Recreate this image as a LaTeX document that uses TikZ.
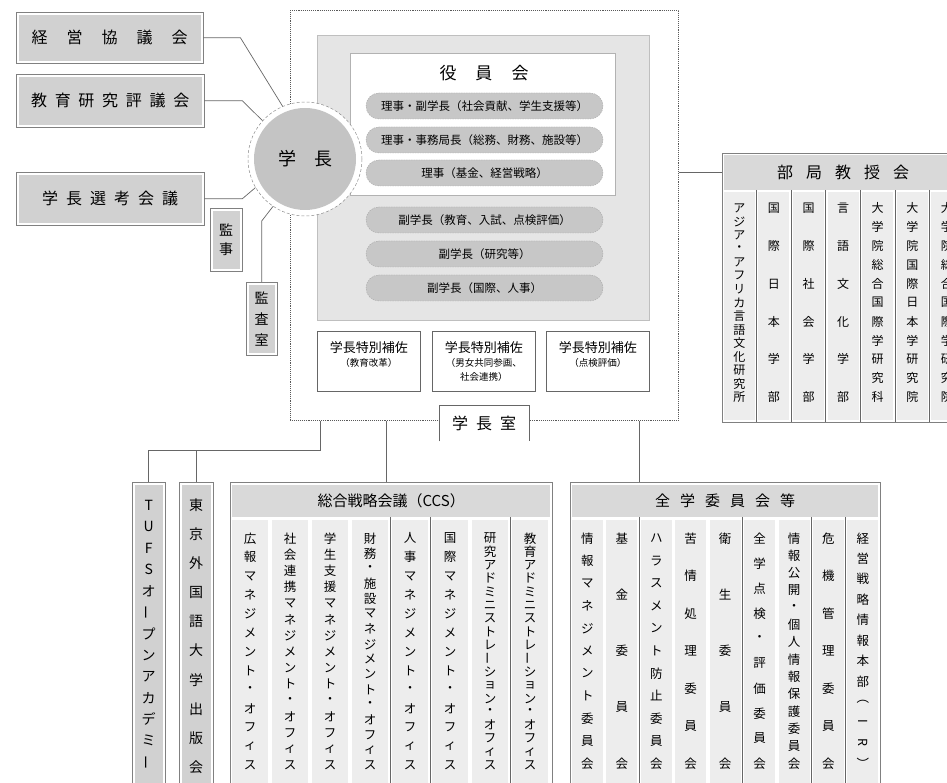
\documentclass[tikz,border=0pt]{standalone}
\usepackage{fontspec}
\usepackage{graphicx}
\usetikzlibrary{calc}
\newfontfamily\jpfont{Noto Sans CJK JP}
\newcommand\fs[1]{\jpfont\fontsize{#1}{#1}\selectfont}
\newcommand\vbar{\rotatebox[origin=c]{90}{ー}}
\newcommand\vI{\rotatebox[origin=c]{-90}{I}}
\newcommand\vR{\rotatebox[origin=c]{-90}{R}}
\makeatletter
\def\tk@end{\tk@end}
\newcommand\spread[2]{\def\tk@sep{}\def\tk@gap{\hspace{#1}}\hs@loop#2\tk@end}
\def\hs@loop#1{\def\tk@tmp{#1}\ifx\tk@tmp\tk@end\else\tk@sep#1\let\tk@sep\tk@gap\expandafter\hs@loop\fi}
\newcommand\vstack[3][0pt]{\parbox[c][\dimexpr#2+#1\relax][s]{1.5em}{\offinterlineskip\def\tk@sep{}\def\tk@gap{\vfill}\expandafter\vs@loop#3\tk@end\vbox to #1{}}}
\def\vs@loop#1{\def\tk@tmp{#1}\ifx\tk@tmp\tk@end\else\tk@sep\hbox to 1.5em{\hss\smash{$\vcenter{\hbox{#1}}$}\hss\vrule height .75em depth .25em width 0pt}\let\tk@sep\tk@gap\expandafter\vs@loop\fi}
\makeatother
\newcommand\aidetext[1]{\parbox[c][58pt][t]{100pt}{\centering\vspace*{9pt}{\fs{13}学長特別補佐\par}\fontsize{9.5}{14}\selectfont#1\par}}

\begin{document}
\begin{tikzpicture}[x=1pt,y=-1pt,
	conn/.style={draw=black!60, line width=0.7pt},
	colsep/.style={draw=black!60, line width=0.6pt},
	gbox/.style={draw=black!50, fill=white, inner sep=0pt, anchor=north west,
		path picture={\fill[black!18] ([shift={(2.5pt,2.5pt)}]path picture bounding box.south west) rectangle ([shift={(-2.5pt,-2.5pt)}]path picture bounding box.north east);}},
	officebox/.style={draw=black!65, densely dotted, line width=0.9pt, anchor=north west, inner sep=0pt, minimum width=388pt, minimum height=410pt},
	panel/.style={fill=black!10, draw=black!25, anchor=north west, inner sep=0pt, minimum width=332pt, minimum height=285pt},
	whitebox/.style={fill=white, draw=black!30, anchor=north west, inner sep=0pt, minimum width=265pt, minimum height=142pt},
	pill/.style={fill=black!22, draw=black!35, dash pattern=on 1.5pt off 1pt, line width=0.4pt, rounded corners=13pt, minimum width=237pt, minimum height=26pt, inner sep=0pt, font=\fs{11.5}},
	aidebox/.style={draw=black!60, fill=white, line width=0.6pt, anchor=north west, inner sep=0pt, minimum width=103pt, minimum height=60pt, font=\jpfont},
	chief/.style={circle, minimum size=114pt, inner sep=0pt, fill=white, draw=black!45, densely dashed, line width=0.5pt, font=\fs{18},
		path picture={\fill[black!23] (path picture bounding box.center) circle (51pt);}},
	block/.style={fill=white, draw=black!50, line width=0.6pt, anchor=north west, inner sep=0pt},
	band/.style={fill=black!15, anchor=north west, inner sep=0pt},
	colbox/.style={fill=black!7, anchor=north west, inner sep=0pt}]
	%%%%% START %%%%%
	\useasboundingbox (0,0) rectangle (947,783);
	\clip (0,0) rectangle (947,783);
	\def\ccsw{40}
	\def\zenw{34.44}
	\def\bukw{34.57}

	% president's office (dotted frame)
	\node[officebox] (office) at (290,10) {};
	\node[panel] (board) at (317,35) {};
	\node[whitebox] (yakuin) at (350,53) {};
	\node[font=\fs{17}] (yakuintitle) at (484,73) {\spread{19pt}{役員会}};
	\foreach \y/\txt [count=\i] in {106/理事・副学長（社会貢献、学生支援等）,140/理事・事務局長（総務、財務、施設等）,173/理事（基金、経営戦略）,220/副学長（教育、入試、点検評価）,254/副学長（研究等）,288/副学長（国際、人事）}
		\node[pill] (p\i) at (484.5,\y) {\txt};

	\node[aidebox] (aide1) at (317,331) {\aidetext{（教育改革）}};
	\node[aidebox] (aide2) at (432,331) {\aidetext{（男女共同参画、\\社会連携）}};
	\node[aidebox] (aide3) at (546,331) {\aidetext{（点検評価）}};

	\node[fill=white, anchor=north west, inner sep=0pt, minimum width=90pt, minimum height=36pt, font=\fs{16}] (sitsu) at (439,405) {\spread{8pt}{学長室}};
	\draw[conn] (sitsu.south west) -- (sitsu.north west) -- (sitsu.north east) -- (sitsu.south east);

	% president
	\node[chief] (gakucho) at (305,159) {\spread{18pt}{学長}};

	% councils on the left
	\node[gbox, minimum width=187pt, minimum height=51pt, font=\fs{16}] (keiei) at (16,12) {\spread{19pt}{経営協議会}};
	\node[gbox, minimum width=188pt, minimum height=53pt, font=\fs{16}] (kyoiku) at (16,74) {\spread{7.7pt}{教育研究評議会}};
	\node[gbox, minimum width=188pt, minimum height=53pt, font=\fs{16}] (senko) at (16,172) {\spread{8pt}{学長選考会議}};
	\node[gbox, minimum width=32pt, minimum height=63pt, font=\fs{14}] (kanji) at (210,208) {\vstack{34pt}{監事}};
	\node[gbox, minimum width=31pt, minimum height=73pt, font=\fs{14}] (kansa) at (246,282) {\vstack{56pt}{監査室}};

	\draw[conn] (keiei.east) -- ++(37,0) -- (gakucho.113);
	\draw[conn] (kyoiku.east) -- ++(38,0) -- (gakucho.138);
	\draw[conn] (senko.east) -- ++(38,0) -- (gakucho.210);
	\draw[conn] (kansa.north) -- ++(0,-61) -- (gakucho.236);

	% faculty councils
	\node[block, minimum width=242pt, minimum height=269pt] (bukyoku) at (722,153) {};
	\node[band, minimum width=238pt, minimum height=35pt, font=\fs{16}] (kyoju) at (724,155) {\spread{13pt}{部局教授会}};
	\foreach \txt [count=\i] in {アジア・アフリカ言語文化研究所,国際日本学部,国際社会学部,言語文化学部,大学院総合国際学研究科,大学院国際日本学研究院,大学院総合国際学研究院}
		\node[colbox, minimum width=31pt, minimum height=228pt, font=\fs{12}] (buk\i) at ({722+\bukw*(\i-1)+1.7},192) {\vstack[7pt]{201pt}{\txt}};
	\foreach \k in {1,...,6}
		\draw[colsep] ({722+\bukw*\k},190) -- ({722+\bukw*\k},422);
	\draw[conn] (office.east |- kyoju) -- (bukyoku.west |- kyoju);

	% bottom row
	\node[gbox, minimum width=33pt, minimum height=308pt, font=\fs{14}] (tufs) at (132,482) {\vstack[5pt]{271pt}{TUFSオ\vbar プンアカデミ\vbar}};
	\node[gbox, minimum width=34pt, minimum height=308pt, font=\fs{14}] (press) at (179,482) {\vstack{276pt}{東京外国語大学出版会}};
	\coordinate (split) at (320,450);
	\draw[conn] (office.south -| split) -- (split) -| (tufs.north);
	\draw[conn] (split -| press.north) -- (press.north);

	\node[block, minimum width=322pt, minimum height=310pt] (ccs) at (230,482) {};
	\node[band, minimum width=318pt, minimum height=32pt, font=\fs{15}] (ccstitle) at (232,485) {総合戦略会議（CCS）};
	\foreach \txt [count=\i] in {広報マネジメント・オフィス,社会連携マネジメント・オフィス,学生支援マネジメント・オフィス,財務・施設マネジメント・オフィス,人事マネジメント・オフィス,国際マネジメント・オフィス,研究アドミニストレ\vbar ション・オフィス,教育アドミニストレ\vbar ション・オフィス}
		\node[colbox, minimum width=36pt, minimum height=270pt, font=\fs{12.5}] (ccs\i) at ({232+\ccsw*(\i-1)},520) {\vstack[7pt]{239.5pt}{\txt}};
	\foreach \x in {390,430,510}
		\draw[colsep] (\x,517) -- (\x,790);
	\draw[conn] ([xshift=-5pt]ccs.north) -- ([xshift=-5pt]ccs.north |- office.south);

	\node[block, minimum width=310pt, minimum height=310pt] (zen) at (570,482) {};
	\node[band, minimum width=306pt, minimum height=32pt, font=\fs{15}] (zentitle) at (572,485) {\spread{10pt}{全学委員会等}};
	\foreach \txt [count=\i] in {情報マネジメント委員会,基金委員会,ハラスメント防止委員会,苦情処理委員会,衛生委員会,全学点検・評価委員会,情報公開・個人情報保護委員会,危機管理委員会,経営戦略情報本部︵\vI\vR︶}
		\node[colbox, minimum width=31pt, minimum height=270pt, font=\fs{12.5}] (zen\i) at ({570+\zenw*(\i-1)+1.7},520) {\vstack[9pt]{237.5pt}{\txt}};
	\foreach \k in {2,5,7,8}
		\draw[colsep] ({570+\zenw*\k},517) -- ({570+\zenw*\k},790);
	\draw[conn] ([xshift=69pt]zen.north west) -- ([xshift=69pt]zen.north west |- office.south);
	%%%%% END %%%%%
\end{tikzpicture}
\end{document}
